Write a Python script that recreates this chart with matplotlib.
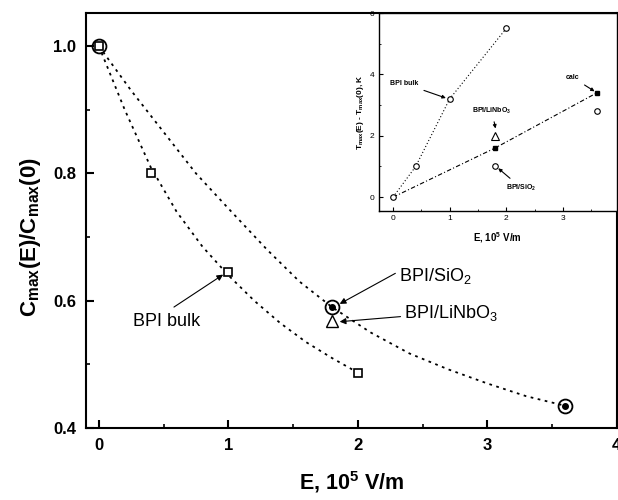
import matplotlib
matplotlib.use("Agg")
from matplotlib import pyplot as plt
from matplotlib.ticker import MultipleLocator

plt.rcParams.update({
    "font.family": ["Liberation Sans", "DejaVu Sans"],
    "mathtext.default": "regular",
    "xtick.direction": "in",
    "ytick.direction": "in",
    "axes.linewidth": 1.5,
})

# main panel: measured points
bulk_e = [0.0, 0.4, 1.0, 2.0]
bulk_c = [1.0, 0.80, 0.645, 0.487]
film_e = [0.0, 1.8, 3.6]
film_c = [1.0, 0.59, 0.435]
lin_e = [1.8]
lin_c = [0.568]

# main panel: dotted guide curves
bulk_fit_e = [0.0, 0.2, 0.4, 0.6, 0.8, 1.0, 1.2, 1.4, 1.6, 1.8, 2.0]
bulk_fit_c = [1.0, 0.90, 0.81, 0.74, 0.685, 0.64, 0.60, 0.565, 0.535, 0.51, 0.487]
film_fit_e = [0.0, 0.25, 0.5, 0.75, 1.0, 1.3, 1.55, 1.8, 2.1, 2.4, 2.7, 3.0, 3.3, 3.6]
film_fit_c = [1.0, 0.93, 0.865, 0.80, 0.745, 0.68, 0.63, 0.59, 0.55, 0.517, 0.492, 0.47, 0.45, 0.435]

# inset: temperature shift
ins_bulk_e = [0.0, 0.4, 1.0, 2.0]
ins_bulk_t = [0.0, 1.0, 3.2, 5.5]
ins_calc_e = [0.0, 1.8, 3.6]
ins_calc_t = [0.0, 1.6, 3.4]
ins_film_e = [1.8, 3.6]
ins_film_t = [1.0, 2.8]
ins_lin_e = [1.8]
ins_lin_t = [2.0]

fig = plt.figure(figsize=(6.18, 5.0), dpi=100)
ax = fig.add_axes([0.139, 0.144, 0.859, 0.830])

ax.plot(bulk_fit_e, bulk_fit_c, ls=(0, (1.5, 2.5)), color="k", lw=1.3)
ax.plot(film_fit_e, film_fit_c, ls=(0, (1.5, 2.5)), color="k", lw=1.3)
ax.plot(bulk_e, bulk_c, "s", mfc="white", mec="k", ms=6, mew=1.2)
ax.plot(film_e, film_c, "o", mfc="none", mec="k", ms=10, mew=1.3)
ax.plot(film_e[1:], film_c[1:], "o", color="k", ms=4)
ax.plot(lin_e, lin_c, "^", mfc="none", mec="k", ms=9, mew=1.0)

arrow = dict(arrowstyle="-|>", color="k", lw=0.8, mutation_scale=9,
             shrinkA=0, shrinkB=0)
ax.text(0.26, 0.568, "BPI bulk", fontsize=13, va="center")
ax.annotate("", xy=(0.96, 0.641), xytext=(0.58, 0.59), arrowprops=arrow)
ax.text(2.32, 0.639, "BPI/SiO$_2$", fontsize=13, va="center")
ax.annotate("", xy=(1.86, 0.595), xytext=(2.29, 0.643), arrowprops=arrow)
ax.text(2.36, 0.580, "BPI/LiNbO$_3$", fontsize=13, va="center")
ax.annotate("", xy=(1.86, 0.567), xytext=(2.33, 0.575), arrowprops=arrow)

ax.set_xlim(-0.1, 4.0)
ax.set_ylim(0.4, 1.052)
ax.xaxis.set_major_locator(MultipleLocator(1))
ax.xaxis.set_minor_locator(MultipleLocator(0.5))
ax.yaxis.set_major_locator(MultipleLocator(0.2))
ax.yaxis.set_minor_locator(MultipleLocator(0.1))
ax.tick_params(which="major", length=6, width=1.5, labelsize=12, pad=7)
ax.tick_params(which="minor", length=3, width=1.2)
for lab in ax.get_xticklabels() + ax.get_yticklabels():
    lab.set_fontweight("bold")
ax.set_xlabel("E, 10$^5$ V/m", fontsize=15.5, fontweight="bold")
ax.xaxis.set_label_coords(0.5, -0.098)
ax.set_ylabel("C$_{max}$(E)/C$_{max}$(0)", fontsize=16, fontweight="bold")
ax.yaxis.set_label_coords(-0.08, 0.46)

ins = fig.add_axes([0.613, 0.578, 0.385, 0.396])
ins.plot(ins_bulk_e, ins_bulk_t, ls=(0, (1, 2)), color="k", lw=0.8)
ins.plot(ins_calc_e, ins_calc_t, ls=(0, (4, 2, 1, 2)), color="k", lw=0.8)
ins.plot(ins_bulk_e, ins_bulk_t, "o", mfc="white", mec="k", ms=4, mew=0.8)
ins.plot(ins_calc_e[1:], ins_calc_t[1:], "s", color="k", ms=3)
ins.plot(ins_film_e, ins_film_t, "o", mfc="white", mec="k", ms=4, mew=0.8)
ins.plot(ins_lin_e, ins_lin_t, "^", mfc="white", mec="k", ms=6, mew=0.8)

small = dict(arrowstyle="-|>", color="k", lw=0.8, mutation_scale=5)
ins.annotate("BPI bulk", xy=(0.98, 3.2), xytext=(-0.05, 3.7), fontsize=5,
             fontweight="bold", arrowprops=small, va="center")
ins.annotate("BPI/LiNbO$_3$", xy=(1.82, 2.15), xytext=(1.4, 2.8), fontsize=5,
             fontweight="bold", arrowprops=small, va="center")
ins.annotate("BPI/SiO$_2$", xy=(1.82, 1.0), xytext=(2.0, 0.3), fontsize=5,
             fontweight="bold", arrowprops=small, va="center")
ins.annotate("calc", xy=(3.6, 3.4), xytext=(3.05, 3.9), fontsize=5,
             fontweight="bold", arrowprops=small, va="center")

ins.set_xlim(-0.25, 3.95)
ins.set_ylim(-0.45, 6.0)
ins.xaxis.set_major_locator(MultipleLocator(1))
ins.xaxis.set_minor_locator(MultipleLocator(0.5))
ins.yaxis.set_major_locator(MultipleLocator(2))
ins.yaxis.set_minor_locator(MultipleLocator(1))
ins.tick_params(which="major", length=3, width=0.8, labelsize=6, pad=3)
ins.tick_params(which="minor", length=1.5, width=0.6)
for sp in ins.spines.values():
    sp.set_linewidth(1.0)
ins.set_xlabel("E, 10$^5$ V/m", fontsize=7, fontweight="bold", labelpad=6)
ins.set_ylabel("T$_{max}$(E) - T$_{max}$(0), K", fontsize=6, fontweight="bold", labelpad=3)

fig.savefig("out.png", dpi=100)
